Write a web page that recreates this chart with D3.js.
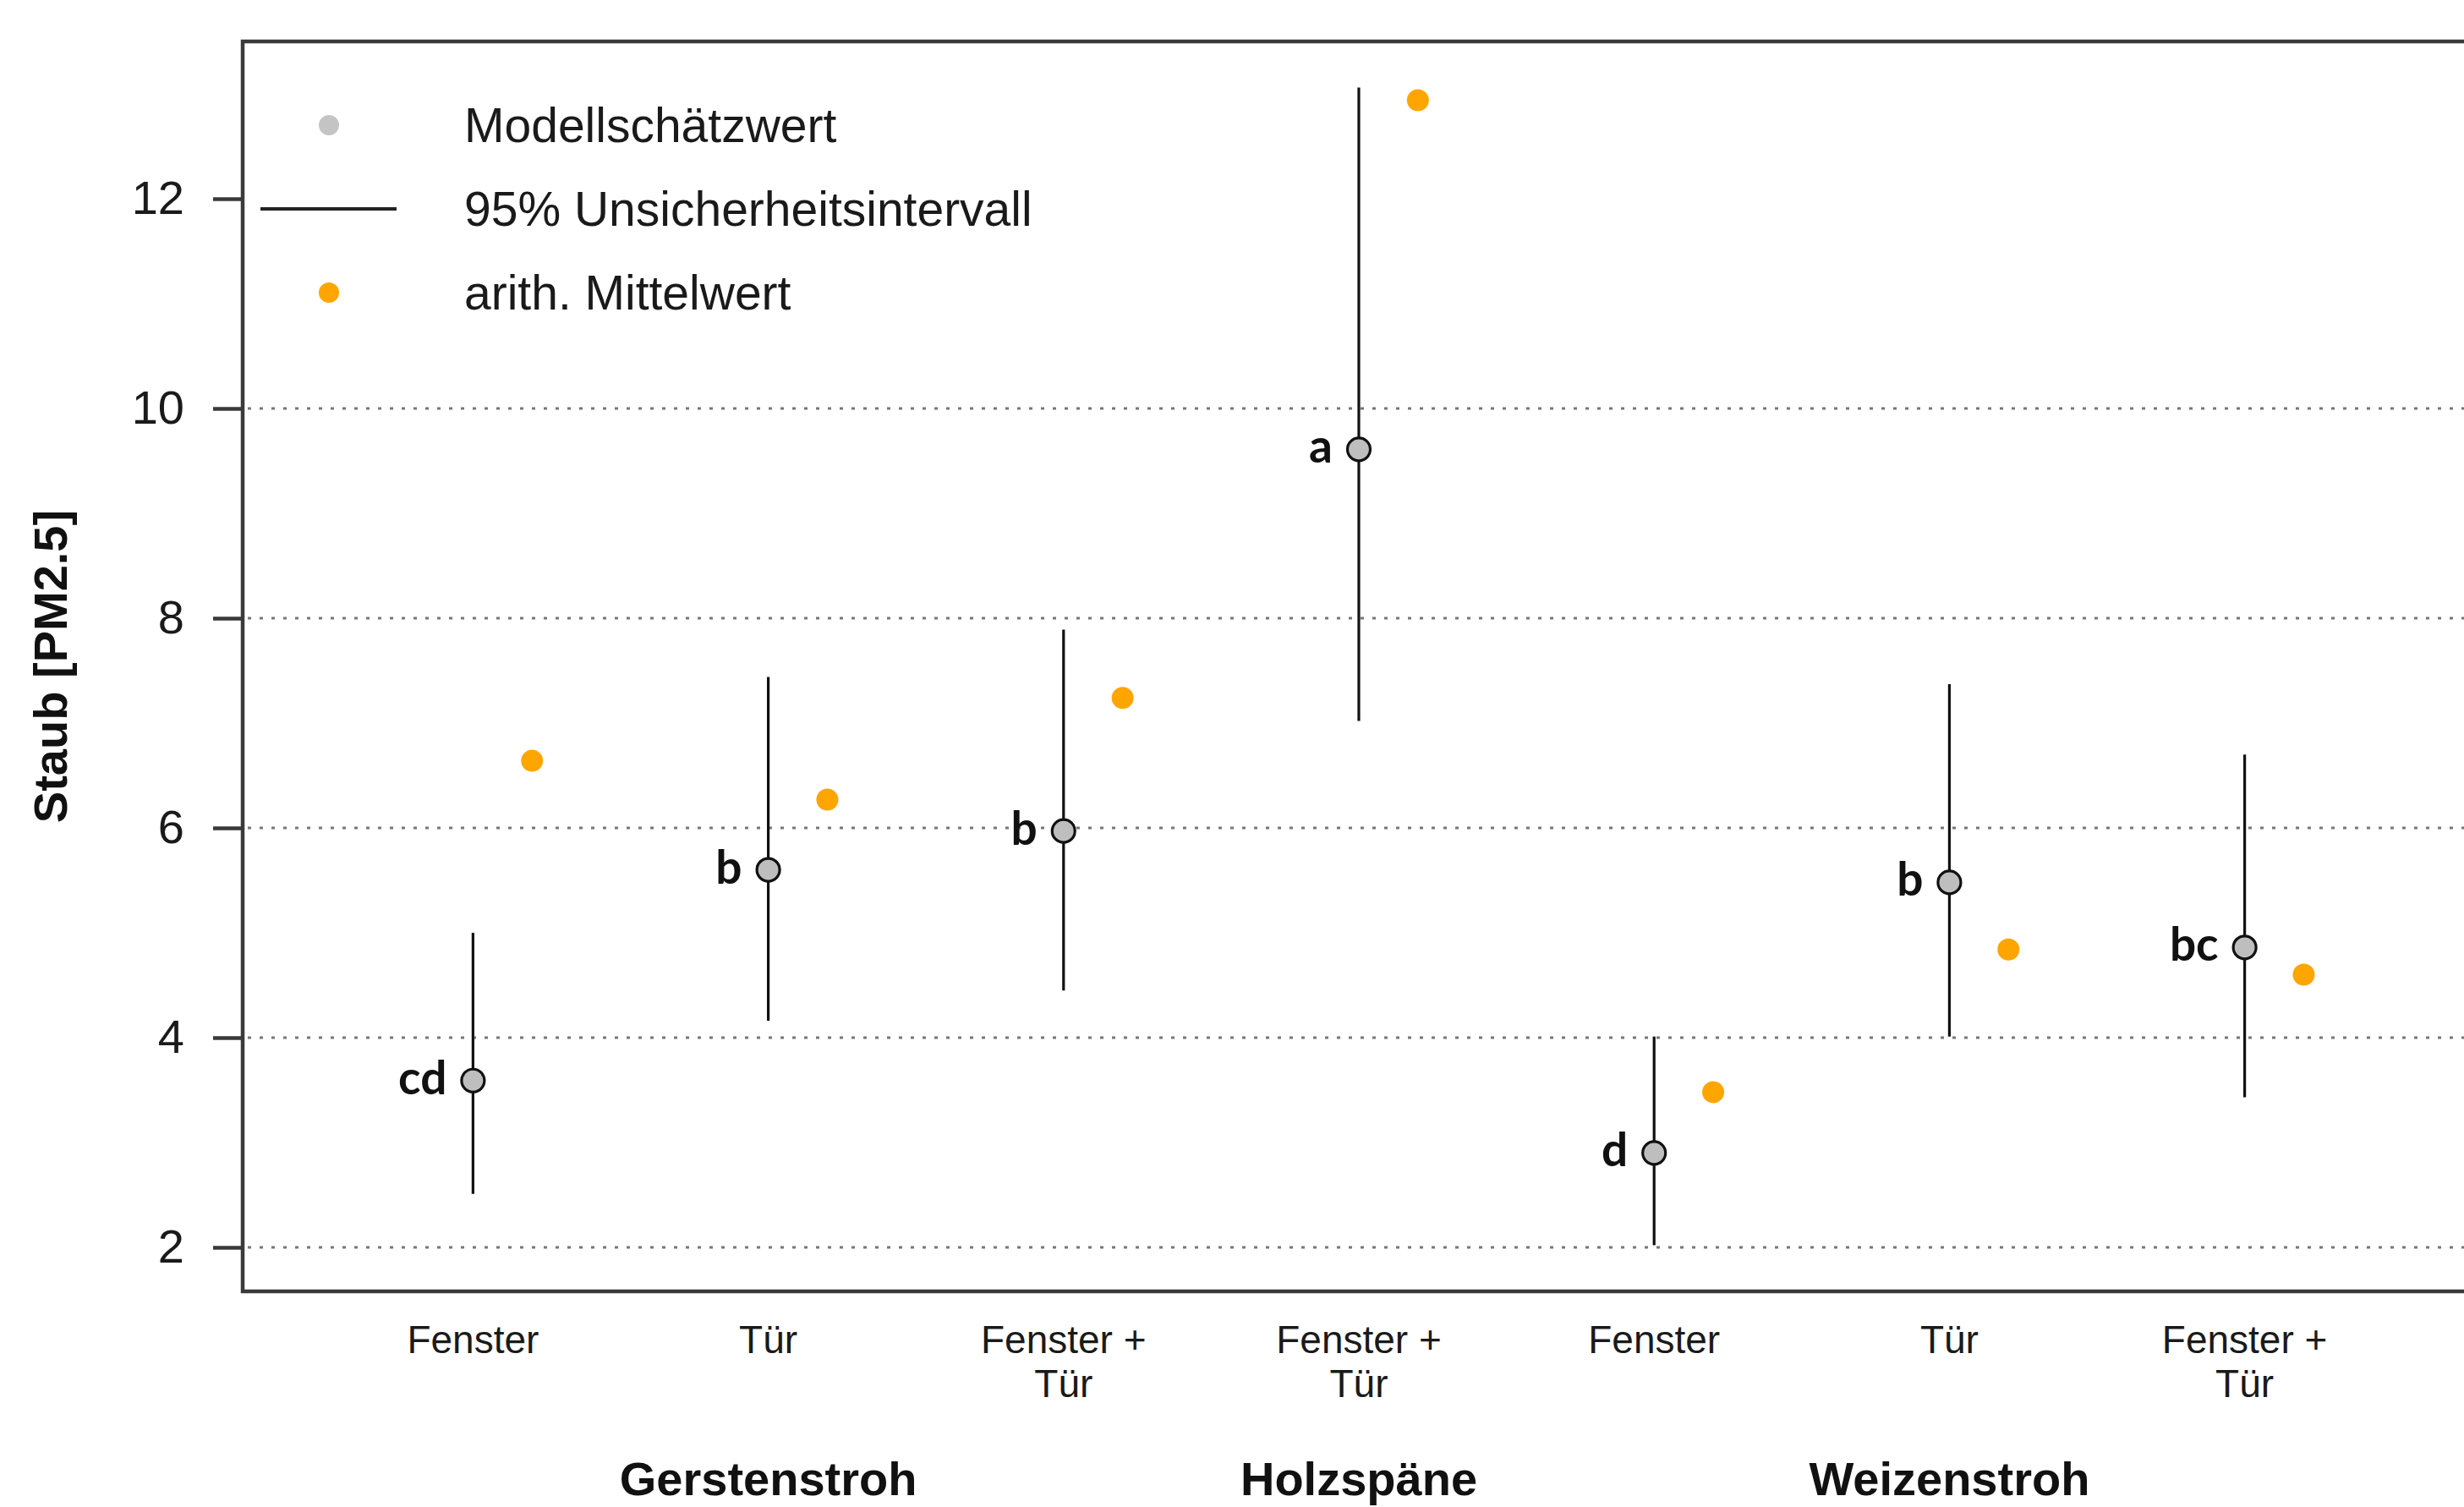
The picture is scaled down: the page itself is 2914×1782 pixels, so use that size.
<!DOCTYPE html>
<html>
<head>
<meta charset="utf-8">
<script src="https://cdn.jsdelivr.net/npm/d3@7"></script>
<style>
  html, body { margin: 0; padding: 0; background: #fff; }
  svg { display: block; }
</style>
</head>
<body>
<svg id="chart"></svg>
<script>
// treatment per position and material group
var treatments = ["Fenster", "Tür", "Fenster + Tür", "Fenster + Tür", "Fenster", "Tür", "Fenster + Tür"];
var materials = ["Gerstenstroh", "Gerstenstroh", "Gerstenstroh", "Holzspäne", "Weizenstroh", "Weizenstroh", "Weizenstroh"];
var estimate = [3.59, 5.60, 5.97, 9.61, 2.90, 5.48, 4.86];
var lower = [2.51, 4.16, 4.45, 7.02, 2.02, 4.01, 3.43];
var upper = [5.00, 7.44, 7.89, 13.06, 4.01, 7.37, 6.70];
var meanValue = [6.64, 6.27, 7.24, 12.94, 3.48, 4.84, 4.60];
var letters = ["cd", "b", "b", "a", "d", "b", "bc"];
var yTicks = [2, 4, 6, 8, 10, 12];
var gridTicks = [2, 4, 6, 8, 10];
var legendLabels = ["Modellschätzwert", "95% Unsicherheitsintervall", "arith. Mittelwert"];

var width = 2914, height = 1782;
var plotLeft = 287, plotTop = 49, plotBottom = 1527;
var meanOffset = 0.2;
var axisColor = "#3a3a3a";
var font = "'Liberation Sans', Arial, sans-serif";

var svg = d3.select("#chart").attr("width", width).attr("height", height);

var rows = treatments.map(function(t, i) {
  return {pos: i + 1, treatment: t, material: materials[i], est: estimate[i],
          lo: lower[i], hi: upper[i], mean: meanValue[i], letter: letters[i]};
});

var x = d3.scaleLinear().domain([0.22, 7.78]).range([plotLeft, 2927]);
var y = d3.scaleLinear().domain([1.58, 13.5]).range([plotBottom, plotTop]);

// dotted grid
svg.append("g").selectAll("line")
  .data(gridTicks)
  .enter().append("line")
  .attr("x1", plotLeft + 6).attr("x2", width)
  .attr("y1", function(d) { return y(d); })
  .attr("y2", function(d) { return y(d); })
  .attr("stroke", "#777")
  .attr("stroke-width", 3)
  .attr("stroke-dasharray", "4,10");

// y axis
var yAxis = svg.append("g")
  .attr("transform", "translate(" + plotLeft + ",0)")
  .call(d3.axisLeft(y).tickValues(yTicks).tickSize(35).tickPadding(34).tickFormat(d3.format("d")));
yAxis.select(".domain").remove();
yAxis.selectAll(".tick line").attr("stroke", axisColor).attr("stroke-width", 4.5);
yAxis.selectAll(".tick text")
  .attr("font-family", font)
  .attr("font-size", 56)
  .attr("fill", "#1a1a1a");

// box (right side runs past the picture)
svg.append("path")
  .attr("d", "M" + (width + 10) + "," + plotTop + "H" + plotLeft + "V" + plotBottom + "H" + (width + 10))
  .attr("fill", "none")
  .attr("stroke", axisColor)
  .attr("stroke-width", 4.5);

// uncertainty intervals
svg.append("g").selectAll("line")
  .data(rows)
  .enter().append("line")
  .attr("x1", function(d) { return x(d.pos); })
  .attr("x2", function(d) { return x(d.pos); })
  .attr("y1", function(d) { return y(d.lo); })
  .attr("y2", function(d) { return y(d.hi); })
  .attr("stroke", "#111")
  .attr("stroke-width", 3.2);

// model estimates
svg.append("g").selectAll("circle")
  .data(rows)
  .enter().append("circle")
  .attr("cx", function(d) { return x(d.pos); })
  .attr("cy", function(d) { return y(d.est); })
  .attr("r", 13.5)
  .attr("fill", "#bebebe")
  .attr("stroke", "#111")
  .attr("stroke-width", 3.2);

// arithmetic means
svg.append("g").selectAll("circle")
  .data(rows)
  .enter().append("circle")
  .attr("cx", function(d) { return x(d.pos + meanOffset); })
  .attr("cy", function(d) { return y(d.mean); })
  .attr("r", 13)
  .attr("fill", "#ffa500");

// significance letters
svg.append("g").selectAll("text")
  .data(rows)
  .enter().append("text")
  .attr("x", function(d) { return x(d.pos) - 31; })
  .attr("y", function(d) { return y(d.est) + 16; })
  .attr("text-anchor", "end")
  .attr("font-family", "Lato, 'Open Sans', sans-serif")
  .attr("font-weight", "bold")
  .attr("font-size", 55)
  .attr("fill", "#111")
  .text(function(d) { return d.letter; });

// treatment labels, split at "+"
var xLabels = svg.append("g").selectAll("text")
  .data(rows)
  .enter().append("text")
  .attr("text-anchor", "middle")
  .attr("font-family", font)
  .attr("font-size", 46)
  .attr("fill", "#1a1a1a");
xLabels.selectAll("tspan")
  .data(function(d) {
    var parts = d.treatment.split(" + ");
    var lines = parts.length > 1 ? [parts[0] + " +", parts[1]] : parts;
    return lines.map(function(l) { return {pos: d.pos, text: l}; });
  })
  .enter().append("tspan")
  .attr("x", function(d) { return x(d.pos); })
  .attr("y", function(d, i) { return 1600 + i * 52; })
  .text(function(d) { return d.text; });

// material group labels
var groups = d3.groups(rows, function(d) { return d.material; });
svg.append("g").selectAll("text")
  .data(groups)
  .enter().append("text")
  .attr("x", function(g) { return x(d3.mean(g[1], function(d) { return d.pos; })); })
  .attr("y", 1768)
  .attr("text-anchor", "middle")
  .attr("font-family", font)
  .attr("font-weight", "bold")
  .attr("font-size", 56)
  .attr("fill", "#111")
  .text(function(g) { return g[0]; });

// y title
svg.append("text")
  .attr("transform", "translate(79," + ((plotTop + plotBottom) / 2) + ") rotate(-90)")
  .attr("text-anchor", "middle")
  .attr("font-family", font)
  .attr("font-weight", "bold")
  .attr("font-size", 56)
  .attr("fill", "#111")
  .text("Staub [PM2.5]");

// legend
var legend = svg.append("g");
var legendY = [148, 247, 346];
legend.append("circle").attr("cx", 389).attr("cy", legendY[0]).attr("r", 12).attr("fill", "#c4c4c4");
legend.append("line").attr("x1", 308).attr("x2", 469).attr("y1", legendY[1]).attr("y2", legendY[1])
  .attr("stroke", "#222").attr("stroke-width", 4);
legend.append("circle").attr("cx", 389).attr("cy", legendY[2]).attr("r", 12).attr("fill", "#ffa500");
legend.selectAll("text")
  .data(legendLabels)
  .enter().append("text")
  .attr("x", 549)
  .attr("y", function(d, i) { return legendY[i] + 20; })
  .attr("font-family", font)
  .attr("font-size", 57)
  .attr("fill", "#1a1a1a")
  .text(function(d) { return d; });
</script>
</body>
</html>
